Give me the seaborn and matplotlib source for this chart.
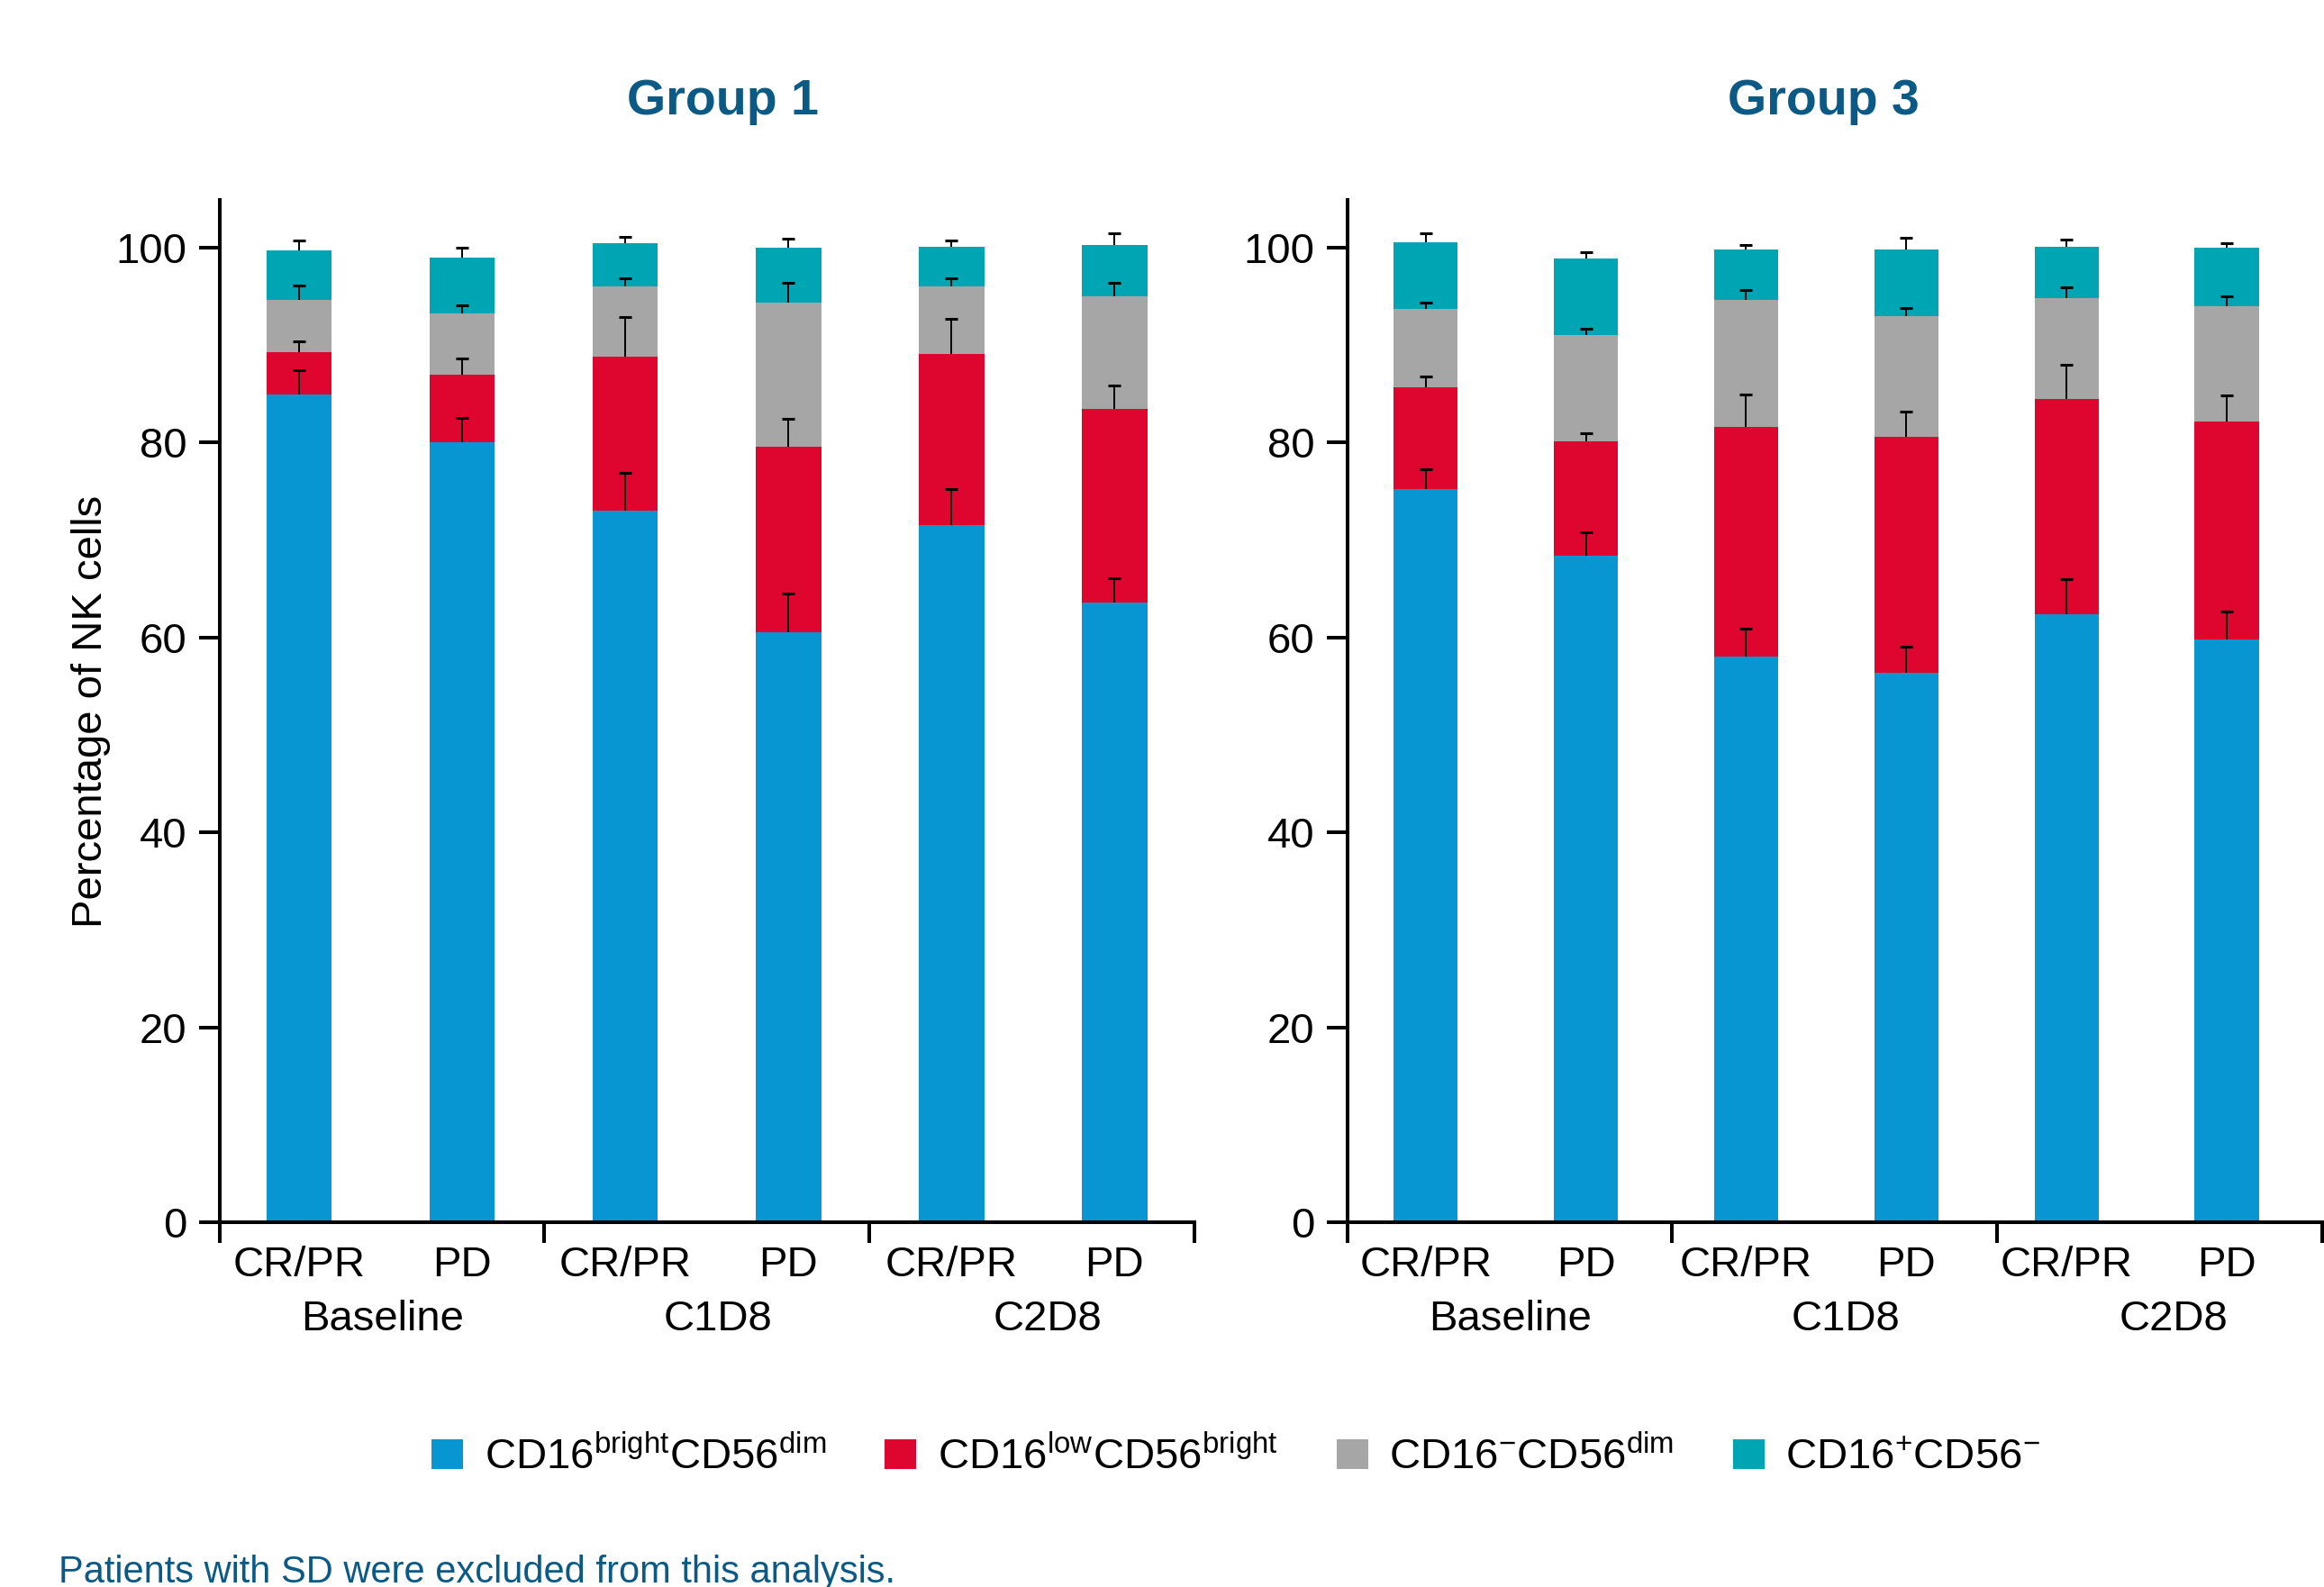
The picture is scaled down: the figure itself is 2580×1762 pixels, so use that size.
import numpy as np
import matplotlib
matplotlib.use("Agg")
import matplotlib.pyplot as plt
import seaborn as sns
from matplotlib.patches import Patch
from matplotlib.ticker import FixedLocator
from matplotlib.transforms import blended_transform_factory

# ---- data -------------------------------------------------------------
timepoints = ["Baseline", "C1D8", "C2D8"]
responses = ["CR/PR", "PD"]

subset_labels = [
    r"CD16$^{bright}$CD56$^{dim}$",
    r"CD16$^{low}$CD56$^{bright}$",
    r"CD16$^{-}$CD56$^{dim}$",
    r"CD16$^{+}$CD56$^{-}$",
]

# mean % of NK cells per subset (bars ordered Baseline CR/PR, Baseline PD, C1D8 CR/PR, ...)
g1_bright_dim = [84.9, 80.0, 73.0, 60.5, 71.5, 63.6]
g1_low_bright = [4.4, 7.0, 15.8, 19.1, 17.6, 19.9]
g1_neg_dim = [5.3, 6.3, 7.2, 14.8, 6.9, 11.5]
g1_pos_neg = [5.1, 5.7, 4.5, 5.6, 4.1, 5.3]

g3_bright_dim = [75.2, 68.4, 58.0, 56.4, 62.4, 59.8]
g3_low_bright = [10.5, 11.7, 23.6, 24.2, 22.1, 22.4]
g3_neg_dim = [8.0, 10.9, 13.0, 12.4, 10.3, 11.8]
g3_pos_neg = [6.9, 7.9, 5.2, 6.8, 5.3, 6.0]

# standard deviations (upper whiskers)
g1_bright_dim_sd = [2.5, 2.5, 3.9, 4.0, 3.7, 2.5]
g1_low_bright_sd = [1.1, 1.6, 4.1, 2.8, 3.6, 2.4]
g1_neg_dim_sd = [1.5, 0.8, 0.9, 2.0, 0.9, 1.4]
g1_pos_neg_sd = [1.0, 1.0, 0.6, 0.9, 0.6, 1.2]

g3_bright_dim_sd = [2.1, 2.4, 2.9, 2.7, 3.6, 2.9]
g3_low_bright_sd = [1.1, 0.9, 3.3, 2.6, 3.5, 2.6]
g3_neg_dim_sd = [0.7, 0.7, 1.1, 0.8, 1.1, 1.0]
g3_pos_neg_sd = [0.9, 0.6, 0.5, 1.2, 0.7, 0.5]

yticks = [0, 20, 40, 60, 80, 100]

# ---- style --------------------------------------------------------------
colors = ["#0896D3", "#DE052F", "#A6A6A6", "#00A5B3"]
title_blue = "#0B5A86"
FS = 34
LW = 2.9

sns.set_theme(style="ticks")
plt.rcParams["font.family"] = ["Liberation Sans", "DejaVu Sans"]
plt.rcParams["mathtext.default"] = "regular"
for key in ["axes.edgecolor", "xtick.color", "ytick.color", "text.color", "axes.labelcolor"]:
    plt.rcParams[key] = "black"

W, H = 2580, 1762
fig = plt.figure(figsize=(W / 100, H / 100), dpi=100)

ax_bottom = (H - 1357) / H
ax_height = (1357 - 222) / H
ax1 = fig.add_axes([243.6 / W, ax_bottom, 1082.4 / W, ax_height])
ax2 = fig.add_axes([1495.6 / W, ax_bottom, 1082.4 / W, ax_height])

bar_keys = [f"{t} {r}" for t in timepoints for r in responses]


def draw_panel(ax, layers, errors, xlim, label_x):
    cum = np.cumsum(np.array(layers), axis=0)
    # draw cumulative totals back-to-front so each segment shows its own colour
    for k in range(len(layers) - 1, -1, -1):
        sns.barplot(x=bar_keys, y=cum[k], order=bar_keys, color=colors[k],
                    saturation=1, width=0.4, errorbar=None, linewidth=0,
                    ax=ax, zorder=2)
    pos = np.arange(len(bar_keys))
    for k in range(len(layers)):
        tops = cum[k] + np.array(errors[k])
        ax.vlines(pos, cum[k], tops, color="black", lw=1.4, zorder=5)
        ax.plot(pos, tops, ls="none", marker="_", ms=9.5, mew=2.2,
                color="black", zorder=5)

    ax.set_xlim(*xlim)
    ax.set_ylim(0, 104.9)
    ax.set_yticks(yticks)
    ax.set_yticklabels([str(v) for v in yticks])
    ax.set_xticks(pos)
    ax.set_xticklabels(responses * len(timepoints))
    ax.set_xlabel("")
    ax.set_ylabel("")

    sns.despine(ax=ax)
    for side in ["left", "bottom"]:
        ax.spines[side].set_linewidth(LW)

    ax.tick_params(axis="y", length=16.5, width=LW, pad=9.4, labelsize=FS, direction="out")
    ax.tick_params(axis="x", which="major", length=0, pad=19, labelsize=FS)

    # group separators on the category axis
    span = (xlim[1] - xlim[0]) / len(timepoints)
    seps = [xlim[0] + i * span for i in range(len(timepoints) + 1)]
    ax.xaxis.set_minor_locator(FixedLocator(seps))
    ax.tick_params(axis="x", which="minor", length=16.5, width=LW, direction="out")

    trans = blended_transform_factory(ax.transData, ax.transAxes)
    for x, tp in zip(label_x, timepoints):
        ax.text(x, -0.0758, tp, transform=trans, ha="center", va="top", fontsize=FS)


draw_panel(ax1,
           [g1_bright_dim, g1_low_bright, g1_neg_dim, g1_pos_neg],
           [g1_bright_dim_sd, g1_low_bright_sd, g1_neg_dim_sd, g1_pos_neg_sd],
           (-0.49, 5.49), [0.51, 2.57, 4.59])
draw_panel(ax2,
           [g3_bright_dim, g3_low_bright, g3_neg_dim, g3_pos_neg],
           [g3_bright_dim_sd, g3_low_bright_sd, g3_neg_dim_sd, g3_pos_neg_sd],
           (-0.49, 5.596), [0.53, 2.62, 4.67])

ax1.set_ylabel("Percentage of NK cells", fontsize=FS)
ax1.yaxis.set_label_coords((123 - 243.6) / 1082.4, 0.5)

# panel titles
fig.text(802 / W, 1 - 127 / H, "Group 1", ha="center", va="baseline",
         fontsize=40, fontweight="bold", color=title_blue)
fig.text(2024 / W, 1 - 127 / H, "Group 3", ha="center", va="baseline",
         fontsize=40, fontweight="bold", color=title_blue)

# legend
handles = [Patch(facecolor=c, edgecolor="none") for c in colors]
fig.legend(handles, subset_labels, loc="center", ncol=4, frameon=False,
           bbox_to_anchor=(1372 / W, 1 - 1618 / H), fontsize=FS,
           handlelength=0.74, handleheight=0.72, handletextpad=0.5,
           columnspacing=1.38)

fig.text(65 / W, 1 - 1757 / H, "Patients with SD were excluded from this analysis.",
         ha="left", va="baseline", fontsize=30, color=title_blue)

fig.savefig("out.png", dpi=100)
